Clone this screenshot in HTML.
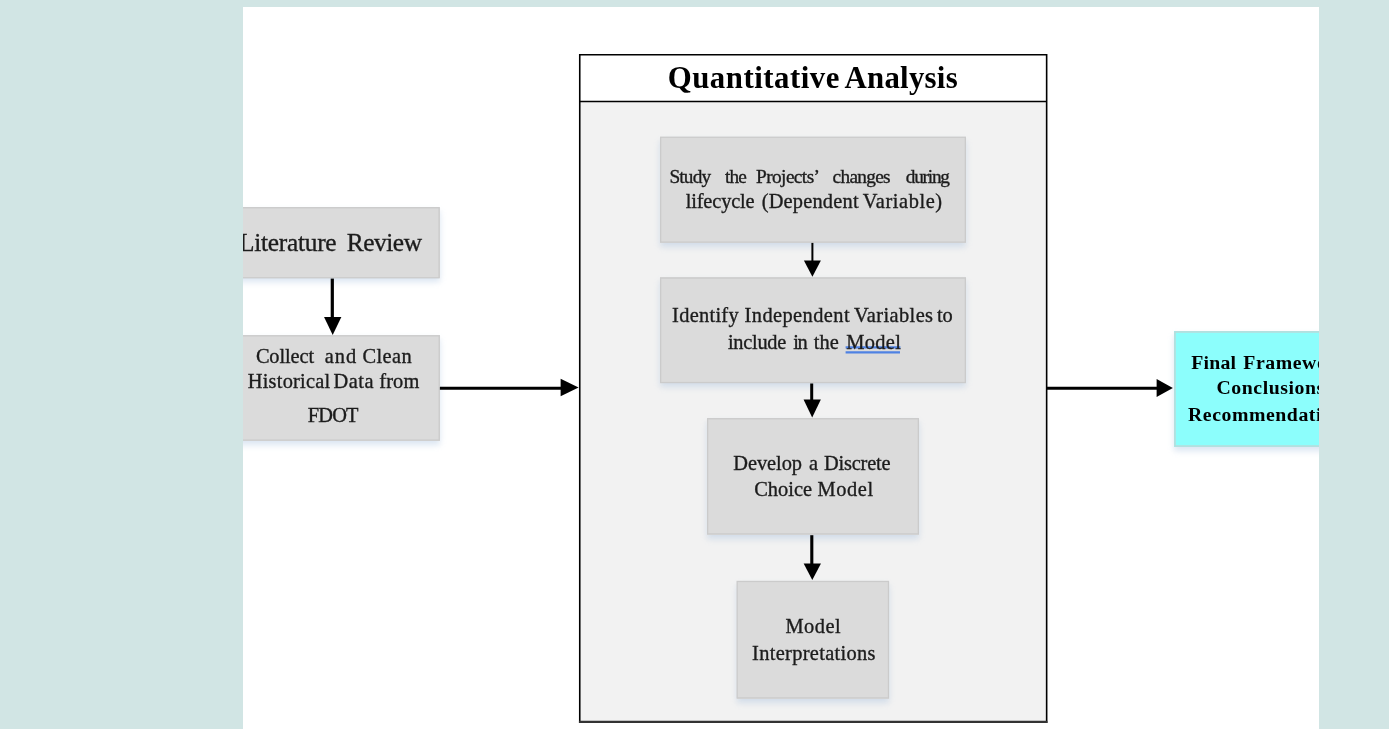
<!DOCTYPE html>
<html lang="en">
<head>
<meta charset="utf-8">
<title>Research Methodology Flowchart</title>
<style>
html,body{margin:0;padding:0;}
body{width:1389px;height:729px;overflow:hidden;background:#d1e5e4;font-family:"Liberation Serif","Times New Roman",serif;color:#1c1c1c;}
.page{position:absolute;left:243px;top:7px;width:1076px;height:722px;background:#fff;overflow:hidden;}
.inner{position:absolute;left:-243px;top:-7px;width:1389px;height:729px;}
.bx{position:absolute;box-sizing:border-box;}
.g{background:#dbdbdb;box-shadow:0 3.5px 6px rgba(150,180,215,0.33);}
.c{background:#8cfefc;box-shadow:0 3.5px 6px rgba(150,180,215,0.33);}
.qhead{position:absolute;background:#fff;}
.qbody{position:absolute;background:#f2f2f2;}
.ov{position:absolute;left:0;top:0;}
.txt{position:absolute;left:0;top:0;width:1389px;height:729px;will-change:transform;filter:blur(0.5px);}
.ln{position:absolute;left:0;top:0;white-space:pre;line-height:1;}
.w{position:absolute;white-space:pre;line-height:1;display:block;-webkit-text-stroke:0.35px currentColor;}
</style>
</head>
<body>
<div class="page"><div class="inner">
<div class="bx g" style="left:225px;top:207.1px;width:214.70px;height:71.30px;"></div>
<div class="bx g" style="left:225px;top:335.2px;width:214.90px;height:105.50px;"></div>
<div class="qhead" style="left:579px;top:54px;width:468.4px;height:48px"></div>
<div class="qbody" style="left:579px;top:101.5px;width:468.4px;height:621.5px"></div>
<div class="bx g" style="left:660px;top:136.6px;width:306.00px;height:106.10px;"></div>
<div class="bx g" style="left:660px;top:277.4px;width:306.00px;height:105.80px;"></div>
<div class="bx g" style="left:707px;top:418.1px;width:212.00px;height:116.50px;"></div>
<div class="bx g" style="left:736.5px;top:580.8px;width:152.60px;height:117.80px;"></div>
<div class="bx c" style="left:1174.3px;top:331.3px;width:187.70px;height:115.40px;"></div>
<svg class="ov" width="1389" height="729" viewBox="0 0 1389 729"><rect x="1174.95" y="331.95" width="186.40" height="114.10" fill="none" stroke="#c3d3d3" stroke-width="1.3"/><rect x="737.15" y="581.45" width="151.30" height="116.50" fill="none" stroke="#cbcbcb" stroke-width="1.3"/><rect x="707.65" y="418.75" width="210.70" height="115.20" fill="none" stroke="#cbcbcb" stroke-width="1.3"/><rect x="660.65" y="278.05" width="304.70" height="104.50" fill="none" stroke="#cbcbcb" stroke-width="1.3"/><rect x="660.65" y="137.25" width="304.70" height="104.80" fill="none" stroke="#cbcbcb" stroke-width="1.3"/><rect x="225.65" y="335.85" width="213.60" height="104.20" fill="none" stroke="#cbcbcb" stroke-width="1.3"/><rect x="225.65" y="207.75" width="213.40" height="70.00" fill="none" stroke="#cbcbcb" stroke-width="1.3"/><path d="M579.75 722.9 V54.75 H1046.65 V722.9" fill="none" stroke="#000" stroke-width="1.6"/><line x1="578.95" y1="721.85" x2="1047.45" y2="721.85" stroke="#333" stroke-width="2.1"/><line x1="579" y1="101.5" x2="1047" y2="101.5" stroke="#000" stroke-width="1.5"/><line x1="332.3" y1="278.6" x2="332.3" y2="317.9" stroke="#000" stroke-width="3.2"/><polygon points="324.05,316.90 341.35,316.90 332.70,334.9" fill="#000"/><line x1="439.9" y1="388.3" x2="561.6" y2="388.3" stroke="#000" stroke-width="3.1"/><polygon points="560.60,378.85 560.60,396.35 578.6,387.60" fill="#000"/><line x1="812.4" y1="242.9" x2="812.4" y2="261.40000000000003" stroke="#000" stroke-width="2"/><polygon points="803.90,260.40 820.90,260.40 812.40,276.8" fill="#000"/><line x1="811.7" y1="383.5" x2="811.7" y2="400.4" stroke="#000" stroke-width="3"/><polygon points="803.55,399.40 820.85,399.40 812.20,417.4" fill="#000"/><line x1="811.8" y1="535.2" x2="811.8" y2="564.5" stroke="#000" stroke-width="3.1"/><polygon points="803.65,563.50 820.95,563.50 812.30,580.1" fill="#000"/><line x1="1047" y1="388.3" x2="1157.6000000000001" y2="388.3" stroke="#000" stroke-width="3.0"/><polygon points="1156.60,379.00 1156.60,397.00 1172.9,388.00" fill="#000"/><line x1="845.6" y1="347.4" x2="900.4" y2="347.4" stroke="#4f82e3" stroke-width="2.1"/><line x1="845.6" y1="352.3" x2="900.0" y2="352.3" stroke="#4f82e3" stroke-width="2.3"/></svg>
<div class="txt">
<div class="ln"><span class="w" style="top:62.60px;font-size:30.8px;left:667.70px;letter-spacing:0.529px;font-weight:bold;color:#000;-webkit-text-stroke:0;">Quantitative</span> <span class="w" style="top:62.60px;font-size:30.8px;left:844.50px;letter-spacing:0.277px;font-weight:bold;color:#000;-webkit-text-stroke:0;">Analysis</span></div>
<div class="ln"><span class="w" style="top:230.30px;font-size:25.4px;left:239.10px;letter-spacing:-0.291px;">Literature</span> <span class="w" style="top:230.30px;font-size:25.4px;left:346.70px;letter-spacing:-0.445px;">Review</span></div>
<div class="ln"><span class="w" style="top:345.80px;font-size:20.4px;left:255.90px;letter-spacing:-0.121px;">Collect</span> <span class="w" style="top:345.80px;font-size:20.4px;left:324.80px;letter-spacing:1.027px;">and</span> <span class="w" style="top:345.80px;font-size:20.4px;left:362.50px;letter-spacing:0.408px;">Clean</span></div>
<div class="ln"><span class="w" style="top:370.80px;font-size:20.4px;left:247.70px;letter-spacing:0.240px;">Historical</span> <span class="w" style="top:370.80px;font-size:20.4px;left:333.40px;letter-spacing:0.520px;">Data</span> <span class="w" style="top:370.80px;font-size:20.4px;left:379.20px;letter-spacing:0.175px;">from</span></div>
<div class="ln"><span class="w" style="top:404.80px;font-size:20.4px;left:307.80px;letter-spacing:-0.864px;">FDOT</span></div>
<div class="ln"><span class="w" style="top:166.85px;font-size:19.3px;left:669.50px;letter-spacing:-0.865px;">Study</span> <span class="w" style="top:166.85px;font-size:19.3px;left:724.90px;letter-spacing:-0.849px;">the</span> <span class="w" style="top:166.85px;font-size:19.3px;left:756.00px;letter-spacing:-0.565px;">Projects’</span> <span class="w" style="top:166.85px;font-size:19.3px;left:832.60px;letter-spacing:-0.699px;">changes</span> <span class="w" style="top:166.85px;font-size:19.3px;left:905.80px;letter-spacing:-1.240px;">during</span></div>
<div class="ln"><span class="w" style="top:190.80px;font-size:20.4px;left:685.70px;letter-spacing:-0.154px;">lifecycle</span> <span class="w" style="top:190.80px;font-size:20.4px;left:761.70px;letter-spacing:0.195px;">(Dependent</span> <span class="w" style="top:190.80px;font-size:20.4px;left:862.80px;letter-spacing:0.571px;">Variable)</span></div>
<div class="ln"><span class="w" style="top:304.80px;font-size:20.4px;left:672.10px;letter-spacing:0.278px;">Identify</span> <span class="w" style="top:304.80px;font-size:20.4px;left:744.60px;letter-spacing:0.419px;">Independent</span> <span class="w" style="top:304.80px;font-size:20.4px;left:854.00px;letter-spacing:0.396px;">Variables</span> <span class="w" style="top:304.80px;font-size:20.4px;left:937.10px;letter-spacing:-0.165px;">to</span></div>
<div class="ln"><span class="w" style="top:331.80px;font-size:20.4px;left:727.90px;letter-spacing:-0.261px;">include</span> <span class="w" style="top:331.80px;font-size:20.4px;left:793.30px;letter-spacing:-1.465px;">in</span> <span class="w" style="top:331.80px;font-size:20.4px;left:813.80px;letter-spacing:0.070px;">the</span> <span class="w" style="top:331.80px;font-size:20.4px;left:846.20px;letter-spacing:0.382px;">Model</span></div>
<div class="ln"><span class="w" style="top:452.80px;font-size:20.4px;left:733.30px;letter-spacing:-0.064px;">Develop</span> <span class="w" style="top:452.80px;font-size:20.4px;left:808.90px;">a</span> <span class="w" style="top:452.80px;font-size:20.4px;left:823.90px;letter-spacing:-0.183px;">Discrete</span></div>
<div class="ln"><span class="w" style="top:478.80px;font-size:20.4px;left:754.20px;letter-spacing:0.039px;">Choice</span> <span class="w" style="top:478.80px;font-size:20.4px;left:817.60px;letter-spacing:0.557px;">Model</span></div>
<div class="ln"><span class="w" style="top:615.80px;font-size:20.4px;left:785.50px;letter-spacing:0.482px;">Model</span></div>
<div class="ln"><span class="w" style="top:642.80px;font-size:20.4px;left:752.10px;letter-spacing:0.317px;">Interpretations</span></div>
<div class="ln"><span class="w" style="top:353.10px;font-size:19.8px;left:1191.20px;letter-spacing:0.232px;font-weight:bold;color:#000;-webkit-text-stroke:0;">Final</span> <span class="w" style="top:353.10px;font-size:19.8px;left:1243.30px;letter-spacing:0.55px;font-weight:bold;color:#000;-webkit-text-stroke:0;">Framework</span></div>
<div class="ln"><span class="w" style="top:378.10px;font-size:19.8px;left:1216.50px;letter-spacing:0.55px;font-weight:bold;color:#000;-webkit-text-stroke:0;">Conclusions</span></div>
<div class="ln"><span class="w" style="top:405.10px;font-size:19.8px;left:1188.00px;letter-spacing:0.55px;font-weight:bold;color:#000;-webkit-text-stroke:0;">Recommendations</span></div>
</div>
</div></div>
</body>
</html>
